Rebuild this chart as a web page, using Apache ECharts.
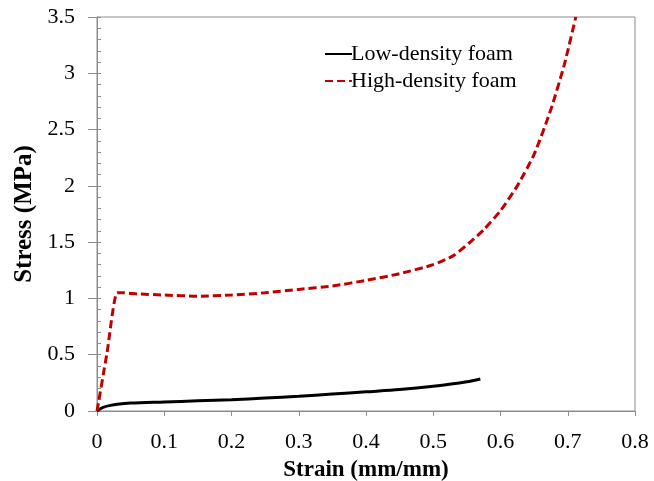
<!DOCTYPE html>
<html>
<head>
<meta charset="utf-8">
<script src="https://cdn.jsdelivr.net/npm/echarts@6/dist/echarts.min.js"></script>
<style>html,body{margin:0;padding:0;background:#fff}#c{width:654px;height:481px}</style>
</head>
<body>
<div id="c"></div>
<script>
const seriesNames = ["Low-density foam", "High-density foam"];
const lowStrain = [0, 0.005, 0.01, 0.02, 0.03, 0.05, 0.1, 0.15, 0.2, 0.25, 0.3, 0.35, 0.4, 0.45, 0.5, 0.55, 0.57];
const lowStress = [0, 0.02, 0.035, 0.05, 0.06, 0.07, 0.08, 0.09, 0.1, 0.115, 0.13, 0.15, 0.17, 0.19, 0.22, 0.26, 0.285];
const highStrain = [0, 0.015, 0.03, 0.04, 0.06, 0.1, 0.15, 0.2, 0.25, 0.3, 0.35, 0.4, 0.45, 0.5, 0.53, 0.555, 0.575, 0.6, 0.625, 0.65, 0.675, 0.695, 0.712];
const highStress = [0, 0.52, 1.05, 1.05, 1.04, 1.03, 1.02, 1.03, 1.05, 1.08, 1.11, 1.16, 1.22, 1.3, 1.38, 1.5, 1.61, 1.78, 2.0, 2.28, 2.68, 3.08, 3.5];

const zip = (a, b) => a.map((v, i) => [v, b[i]]);
const font = "'Liberation Serif', 'Times New Roman', serif";
const chart = echarts.init(document.getElementById('c'), null, {renderer: 'canvas'});
chart.setOption({
  animation: false,
  backgroundColor: '#fff',
  grid: {left: 97, right: 19, top: 17, bottom: 70, show: true, borderColor: '#8c8c8c', borderWidth: 1,
         containLabel: false, outerBoundsMode: 'none'},
  legend: {
    left: 319, top: 38, orient: 'vertical', itemWidth: 27, itemHeight: 12, itemGap: 5,
    itemStyle: {opacity: 0},
    textStyle: {fontFamily: font, fontSize: 22, lineHeight: 22, color: '#000', padding: [0, 0, 0, -6]},
    data: seriesNames
  },
  xAxis: {
    type: 'value', min: 0, max: 0.8, interval: 0.1,
    name: 'Strain (mm/mm)', nameLocation: 'middle', nameGap: 48,
    nameTextStyle: {fontFamily: font, fontSize: 23, fontWeight: 'bold', color: '#000'},
    axisLine: {show: true, lineStyle: {color: '#8c8c8c', width: 1}},
    axisTick: {show: true, inside: false, length: 5, lineStyle: {color: '#8c8c8c'}},
    axisLabel: {fontFamily: font, fontSize: 22, color: '#000', margin: 20},
    splitLine: {show: false}
  },
  yAxis: [{
    type: 'value', min: 0, max: 3.5, interval: 0.5,
    name: 'Stress (MPa)', nameLocation: 'middle', nameGap: 60,
    nameTextStyle: {fontFamily: font, fontSize: 25, fontWeight: 'bold', color: '#000'},
    axisLine: {show: true, lineStyle: {color: '#8c8c8c', width: 1}},
    axisTick: {show: true, inside: false, length: 9, lineStyle: {color: '#8c8c8c'}},
    axisLabel: {fontFamily: font, fontSize: 22, color: '#000', margin: 22},
    splitLine: {show: false}
  }, {
    type: 'value', min: 0, max: 3.5, interval: 0.5, position: 'left',
    axisLine: {show: false},
    axisTick: {show: true, inside: true, length: 4, lineStyle: {color: '#8c8c8c'}},
    minorTick: {show: true, splitNumber: 5, length: 4, lineStyle: {color: '#8c8c8c'}},
    axisLabel: {show: false},
    splitLine: {show: false}
  }],
  series: [{
    name: seriesNames[0], type: 'line', data: zip(lowStrain, lowStress),
    symbol: 'none', smooth: 0.3,
    lineStyle: {color: '#000', width: 3}, itemStyle: {color: '#000'}
  }, {
    name: seriesNames[1], type: 'line', data: zip(highStrain, highStress),
    symbol: 'none', smooth: 0.2,
    lineStyle: {color: '#c00000', width: 3, type: [8, 4]}, itemStyle: {color: '#c00000'}
  }]
});
</script>
</body>
</html>
